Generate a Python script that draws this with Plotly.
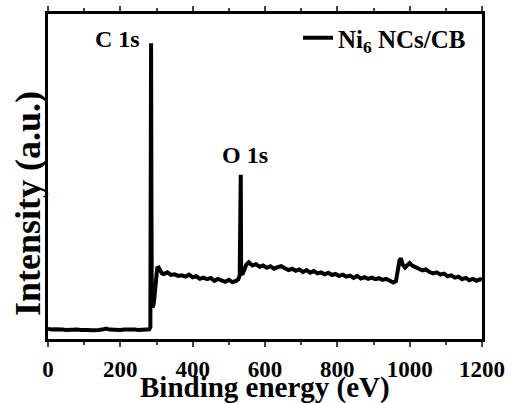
import plotly.graph_objects as go

energy = [0, 10, 20, 30, 40, 50, 60, 70, 80, 90, 100, 110, 120, 130, 140, 150, 160, 170, 180, 190,
          200, 210, 220, 230, 240, 250, 260, 270, 280,
          283, 284, 285, 286, 287, 289, 291, 293, 296, 299, 302, 306, 310, 315,
          320, 330, 340, 350, 360, 370, 380, 390, 400, 410, 420, 430, 440, 450, 460, 470, 480, 490,
          500, 510, 520, 526, 530, 531, 533, 534, 537, 542, 548, 555, 565, 575, 585, 595,
          605, 615, 625, 635, 645, 655, 665, 675, 685, 695, 705, 715, 725, 735, 745, 755, 765, 775,
          785, 795, 805, 815, 825, 835, 845, 855, 865, 875, 885, 895, 905, 915, 925, 935, 945, 955,
          962, 967, 972, 976, 981, 987, 993, 1000, 1007, 1015, 1025, 1035, 1045, 1055, 1065, 1075,
          1085, 1095, 1105, 1115, 1125, 1135, 1145, 1155, 1165, 1175, 1185, 1195, 1200]

intensity = [3.2, 2.9, 3.0, 2.8, 2.9, 2.8, 2.9, 2.7, 2.9, 2.8, 2.9, 2.8, 2.7, 2.9, 2.8, 2.9, 3.2, 2.9, 2.8, 2.9,
             2.8, 2.9, 3.0, 2.8, 2.9, 2.8, 2.9, 2.8, 3.0,
             3.6, 60.0, 91.0, 40.0, 12.0, 9.8, 10.2, 11.5, 15.0, 19.0, 21.8, 22.0, 21.2, 20.2,
             20.0, 20.5, 19.7, 19.9, 19.4, 19.6, 19.2, 19.8, 19.0, 19.3, 18.5, 18.9, 18.4, 18.8, 17.9, 18.5, 18.0, 17.6,
             18.2, 17.5, 17.9, 18.3, 19.5, 50.5, 50.5, 21.0, 19.8, 21.0, 22.8, 23.6, 22.6, 23.0, 22.2, 22.6,
             21.9, 22.4, 21.6, 22.1, 22.4, 21.8, 21.2, 21.6, 21.0, 21.4, 20.6, 21.2, 20.4, 20.9, 20.2, 20.5, 19.9, 20.4,
             19.7, 20.0, 19.4, 19.8, 19.2, 19.5, 18.8, 19.4, 18.6, 19.0, 18.5, 18.9, 18.4, 18.7, 18.2, 18.5, 17.9, 17.4,
             17.8, 20.5, 24.2, 24.8, 22.8, 22.0, 22.6, 23.4, 22.6, 22.2, 21.6, 21.1, 21.4, 20.6, 20.2, 20.5,
             19.8, 20.1, 19.3, 19.6, 18.9, 19.2, 18.4, 18.8, 18.1, 18.5, 17.9, 18.4, 18.2]

x_ticks = [0, 200, 400, 600, 800, 1000, 1200]
x_tick_labels = ["0", "200", "400", "600", "800", "1000", "1200"]
peak_labels = ["C 1s", "O 1s"]
series_name = "Ni<sub>6</sub> NCs/CB"
x_title = "Binding energy (eV)"
y_title = "Intensity (a.u.)"

FONT = "Liberation Serif, Times New Roman, serif"

# plot area in pixels (for placing paper-referenced texts)
L, R, T, B = 48, 482, 14, 339
W, H = R - L, B - T


def px(x):
    return (x - L) / W


def py(y):
    return (B - y) / H


fig = go.Figure()
fig.add_trace(go.Scatter(x=energy, y=intensity, mode="lines", name=series_name,
                         line=dict(color="black", width=4)))

fig.update_layout(
    width=512, height=403,
    margin=dict(l=L, r=512 - R, t=T, b=403 - B),
    paper_bgcolor="white", plot_bgcolor="white",
    font=dict(family=FONT, color="black"),
    showlegend=True,
    legend=dict(x=px(298), y=py(15), xanchor="left", yanchor="top",
                bgcolor="rgba(0,0,0,0)", borderwidth=0, tracegroupgap=0,
                font=dict(family=FONT, size=25, weight="bold")),
    xaxis=dict(range=[0, 1200], tickvals=x_ticks,
               ticktext=["<b>%s</b>" % t for t in x_tick_labels],
               ticks="outside", ticklen=5, tickwidth=2, ticklabelstandoff=2,
               minor=dict(dtick=100, ticks="outside", ticklen=3, tickwidth=2),
               showline=True, linewidth=3, linecolor="black", mirror="ticks",
               showgrid=False, zeroline=False, automargin=False,
               tickfont=dict(family=FONT, size=23, weight="bold")),
    yaxis=dict(range=[0, 100], showticklabels=False, ticks="",
               showline=True, linewidth=3, linecolor="black", mirror=True,
               showgrid=False, zeroline=False, automargin=False),
)

fig.add_annotation(x=px(117.5), y=py(38.5), xref="paper", yref="paper", text="<b>%s</b>" % peak_labels[0],
                   showarrow=False, xanchor="center", yanchor="middle",
                   font=dict(family=FONT, size=24, weight="bold"))
fig.add_annotation(x=px(244.5), y=py(154.5), xref="paper", yref="paper", text="<b>%s</b>" % peak_labels[1],
                   showarrow=False, xanchor="center", yanchor="middle",
                   font=dict(family=FONT, size=24, weight="bold"))
fig.add_annotation(x=px(265), y=py(387), xref="paper", yref="paper", text="<b>%s</b>" % x_title,
                   showarrow=False, xanchor="center", yanchor="middle",
                   font=dict(family=FONT, size=29, weight="bold"))
fig.add_annotation(x=px(28), y=py(204), xref="paper", yref="paper", text="<b>%s</b>" % y_title,
                   showarrow=False, textangle=-90, xanchor="center", yanchor="middle",
                   font=dict(family=FONT, size=36, weight="bold"))

fig.write_html("out.html")
